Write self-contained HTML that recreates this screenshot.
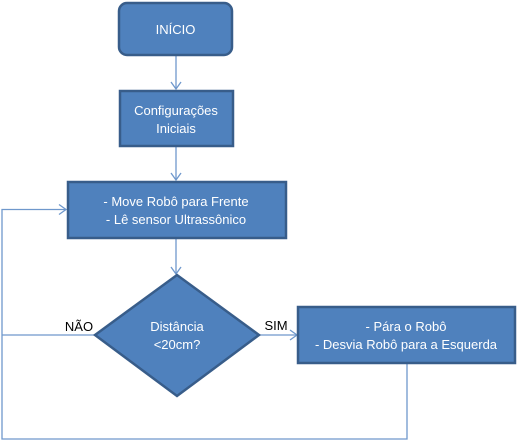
<!DOCTYPE html>
<html><head><meta charset="utf-8"><style>
html,body{margin:0;padding:0;background:#fff;width:518px;height:441px;overflow:hidden}
svg text{font-family:"Liberation Sans",sans-serif;font-size:13px}
</style></head><body>
<svg width="518" height="441" viewBox="0 0 518 441" xmlns="http://www.w3.org/2000/svg">
<g fill="none" stroke="#6f98cc" stroke-width="1.3">
<line x1="176" y1="56" x2="176" y2="89"/>
<polyline points="171,82 176,89 181,82"/>
<line x1="176" y1="147" x2="176" y2="180"/>
<polyline points="171,173 176,180 181,173"/>
<line x1="176" y1="238" x2="176" y2="274"/>
<polyline points="171,267 176,274 181,267"/>
<polyline points="407,363 407,439 2,439 2,209.5 66,209.5"/>
<polyline points="59,204.5 66,209.5 59,214.5"/>
<line x1="2" y1="335" x2="95" y2="335"/>
<line x1="259" y1="335" x2="297" y2="335"/>
<polyline points="290,330 297,335 290,340"/>
</g>
<g fill="#4f81bd" stroke="#385d8a" stroke-width="2.5">
<rect x="119" y="3" width="113" height="52" rx="8"/>
<rect x="120" y="91" width="113" height="55"/>
<rect x="68" y="182" width="218" height="56"/>
<polygon points="95,335 177,275 259,335 177,396"/>
<rect x="298" y="307" width="217" height="56"/>
</g>
<g fill="#fff" text-anchor="middle">
<text x="175.5" y="34">INÍCIO</text>
<text x="176" y="115">Configurações</text>
<text x="176" y="133">Iniciais</text>
<text x="176" y="206">- Move Robô para Frente</text>
<text x="176" y="224">- Lê sensor Ultrassônico</text>
<text x="177" y="331">Distância</text>
<text x="177" y="349">&lt;20cm?</text>
<text x="406" y="331">- Pára o Robô</text>
<text x="406" y="349">- Desvia Robô para a Esquerda</text>
</g>
<g fill="#000" text-anchor="middle">
<text x="79" y="331">NÃO</text>
<text x="276" y="330">SIM</text>
</g>
</svg>
</body></html>
